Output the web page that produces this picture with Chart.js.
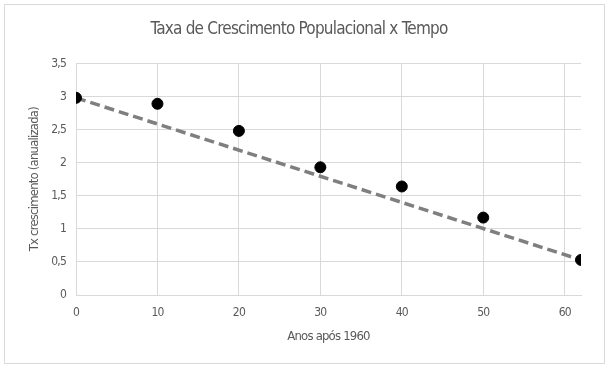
<!DOCTYPE html>
<html>
<head>
<meta charset="utf-8">
<script src="https://cdn.jsdelivr.net/npm/chart.js@4"></script>
<style>
  html, body { margin: 0; padding: 0; background: #ffffff; }
  #wrap { position: relative; width: 612px; height: 369px; }
  #frame { position: absolute; left: 4px; top: 4px; width: 601px; height: 360px; border: 1px solid #d9d9d9; box-sizing: border-box; }
  canvas { position: absolute; left: 0; top: 0; }
</style>
</head>
<body>
<div id="wrap">
  <div id="frame"></div>
  <canvas id="c" width="612" height="369"></canvas>
</div>
<script>
// Data
const anos = [0, 10, 20, 30, 40, 50, 62];
const taxa = [2.98, 2.89, 2.48, 1.93, 1.64, 1.17, 0.53];
const trendX = [0, 62];
const trendY = [2.98, 0.53];
const xTicks = [0, 10, 20, 30, 40, 50, 60];
const yTicks = [0, 0.5, 1, 1.5, 2, 2.5, 3, 3.5];

const FONT = '"DejaVu Sans", "Liberation Sans", sans-serif';
const W = 'normal condensed';
const TXT = '#595959';
const GRID = '#d9d9d9';

const pts = anos.map((x, i) => ({ x: x, y: taxa[i] }));
const trend = trendX.map((x, i) => ({ x: x, y: trendY[i] }));

// tighten letter spacing to imitate the narrow typeface of the reference
const tightText = {
  id: 'tightText',
  beforeUpdate(chart) { chart.ctx.letterSpacing = '-0.8px'; },
  beforeDraw(chart) { chart.ctx.letterSpacing = '-0.8px'; }
};

new Chart(document.getElementById('c'), {
  type: 'scatter',
  plugins: [tightText],
  data: {
    datasets: [
      {
        label: 'Tendência',
        data: trend,
        showLine: true,
        borderColor: '#7f7f7f',
        borderWidth: 3.5,
        borderDash: [10, 5],
        pointRadius: 0,
        fill: false,
        order: 2
      },
      {
        label: 'Taxa',
        data: pts,
        backgroundColor: '#000000',
        borderColor: '#000000',
        pointRadius: 5.5,
        pointHoverRadius: 5.5,
        order: 1
      }
    ]
  },
  options: {
    responsive: false,
    animation: false,
    devicePixelRatio: 1,
    layout: { padding: { left: 17, right: 31, top: 19, bottom: 0 } },
    plugins: {
      legend: { display: false },
      tooltip: { enabled: false },
      title: {
        display: true,
        text: 'Taxa de Crescimento Populacional x Tempo',
        color: TXT,
        font: { family: FONT, size: 17, weight: W },
        padding: { top: 0, bottom: 24 }
      }
    },
    scales: {
      x: {
        type: 'linear',
        min: 0,
        max: 62,
        afterBuildTicks: (s) => { s.ticks = xTicks.map(v => ({ value: v })); },
        afterFit: (s) => { s.height = 74; },
        grid: { color: GRID, lineWidth: 1, drawTicks: false },
        border: { color: GRID },
        ticks: { color: TXT, padding: 11, font: { family: FONT, size: 12, weight: W } },
        title: {
          display: true,
          text: 'Anos após 1960',
          color: TXT,
          font: { family: FONT, size: 13, weight: W },
          padding: { top: 4, bottom: 25 }
        }
      },
      y: {
        min: 0,
        max: 3.5,
        afterBuildTicks: (s) => { s.ticks = yTicks.map(v => ({ value: v })); },
        afterFit: (s) => { s.width = 59; },
        grid: { color: GRID, lineWidth: 1, drawTicks: false },
        border: { color: GRID },
        ticks: {
          color: TXT,
          padding: 10,
          font: { family: FONT, size: 12, weight: W },
          callback: (v) => String(v).replace('.', ',')
        },
        title: {
          display: true,
          text: 'Tx crescimento (anualizada)',
          color: TXT,
          font: { family: FONT, size: 13, weight: W },
          padding: { top: 10, bottom: 4 }
        }
      }
    }
  }
});
</script>
</body>
</html>
